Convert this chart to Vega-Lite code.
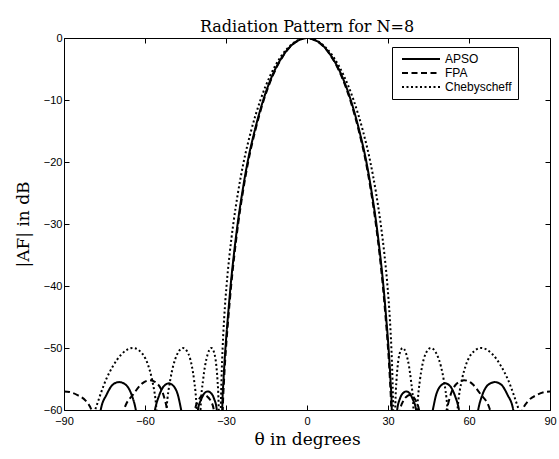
{
"$schema": "https://vega.github.io/schema/vega-lite/v6.json",
"width": 486, "height": 372,
"autosize": {"type": "none"},
"padding": {"left": 64, "top": 38, "right": 9, "bottom": 49},
"background": "white",
"title": {"text": "Radiation Pattern for N=8", "font": "DejaVu Serif", "fontSize": 16, "fontWeight": "normal", "color": "black", "offset": 0, "dy": 3},
"config": {"view": {"stroke": "black", "strokeWidth": 1}},
"data": {"values": [
{"s":"APSO","t":0,"d":0},{"s":"APSO","t":3,"d":-0.35},{"s":"APSO","t":5.3,"d":-1},{"s":"APSO","t":9.1,"d":-3},{"s":"APSO","t":12.8,"d":-6},{"s":"APSO","t":16.2,"d":-10},{"s":"APSO","t":19.4,"d":-15},{"s":"APSO","t":22.0,"d":-20},{"s":"APSO","t":24.0,"d":-25},{"s":"APSO","t":25.7,"d":-30},{"s":"APSO","t":27.1,"d":-35},{"s":"APSO","t":28.3,"d":-40},{"s":"APSO","t":29.3,"d":-45},{"s":"APSO","t":30.2,"d":-50},{"s":"APSO","t":30.9,"d":-55},{"s":"APSO","t":31.4,"d":-60},{"s":"APSO","t":31.9,"d":-75},{"s":"APSO","t":33.4,"d":-60},{"s":"APSO","t":34.4,"d":-58.2},{"s":"APSO","t":35.5,"d":-57.3},{"s":"APSO","t":36.8,"d":-57.0},{"s":"APSO","t":38.0,"d":-57.3},{"s":"APSO","t":39.2,"d":-58.3},{"s":"APSO","t":40.4,"d":-60},{"s":"APSO","t":41.2,"d":-75},{"s":"APSO","t":46.6,"d":-60},{"s":"APSO","t":47.8,"d":-57.6},{"s":"APSO","t":49.3,"d":-56.2},{"s":"APSO","t":51.2,"d":-55.7},{"s":"APSO","t":53.1,"d":-56.2},{"s":"APSO","t":54.8,"d":-57.7},{"s":"APSO","t":56.3,"d":-60},{"s":"APSO","t":59.8,"d":-75},{"s":"APSO","t":63.4,"d":-60},{"s":"APSO","t":65.0,"d":-57.5},{"s":"APSO","t":67.2,"d":-55.9},{"s":"APSO","t":69.6,"d":-55.5},{"s":"APSO","t":71.9,"d":-55.9},{"s":"APSO","t":74.2,"d":-57.5},{"s":"APSO","t":76.4,"d":-60},{"s":"APSO","t":80,"d":-75},{"s":"APSO","t":90,"d":-75},
{"s":"APSO","t":-3,"d":-0.35},{"s":"APSO","t":-5.3,"d":-1},{"s":"APSO","t":-9.1,"d":-3},{"s":"APSO","t":-12.8,"d":-6},{"s":"APSO","t":-16.2,"d":-10},{"s":"APSO","t":-19.4,"d":-15},{"s":"APSO","t":-22.0,"d":-20},{"s":"APSO","t":-24.0,"d":-25},{"s":"APSO","t":-25.7,"d":-30},{"s":"APSO","t":-27.1,"d":-35},{"s":"APSO","t":-28.3,"d":-40},{"s":"APSO","t":-29.3,"d":-45},{"s":"APSO","t":-30.2,"d":-50},{"s":"APSO","t":-30.9,"d":-55},{"s":"APSO","t":-31.4,"d":-60},{"s":"APSO","t":-31.9,"d":-75},{"s":"APSO","t":-33.4,"d":-60},{"s":"APSO","t":-34.4,"d":-58.2},{"s":"APSO","t":-35.5,"d":-57.3},{"s":"APSO","t":-36.8,"d":-57.0},{"s":"APSO","t":-38.0,"d":-57.3},{"s":"APSO","t":-39.2,"d":-58.3},{"s":"APSO","t":-40.4,"d":-60},{"s":"APSO","t":-41.2,"d":-75},{"s":"APSO","t":-46.6,"d":-60},{"s":"APSO","t":-47.8,"d":-57.6},{"s":"APSO","t":-49.3,"d":-56.2},{"s":"APSO","t":-51.2,"d":-55.7},{"s":"APSO","t":-53.1,"d":-56.2},{"s":"APSO","t":-54.8,"d":-57.7},{"s":"APSO","t":-56.3,"d":-60},{"s":"APSO","t":-59.8,"d":-75},{"s":"APSO","t":-63.4,"d":-60},{"s":"APSO","t":-65.0,"d":-57.5},{"s":"APSO","t":-67.2,"d":-55.9},{"s":"APSO","t":-69.6,"d":-55.5},{"s":"APSO","t":-71.9,"d":-55.9},{"s":"APSO","t":-74.2,"d":-57.5},{"s":"APSO","t":-76.4,"d":-60},{"s":"APSO","t":-80,"d":-75},{"s":"APSO","t":-90,"d":-75},
{"s":"FPA","t":0,"d":0},{"s":"FPA","t":3,"d":-0.37},{"s":"FPA","t":5.2,"d":-1},{"s":"FPA","t":9.0,"d":-3},{"s":"FPA","t":12.6,"d":-6},{"s":"FPA","t":16.0,"d":-10},{"s":"FPA","t":19.2,"d":-15},{"s":"FPA","t":21.8,"d":-20},{"s":"FPA","t":23.8,"d":-25},{"s":"FPA","t":25.5,"d":-30},{"s":"FPA","t":26.9,"d":-35},{"s":"FPA","t":28.1,"d":-40},{"s":"FPA","t":29.1,"d":-45},{"s":"FPA","t":30.0,"d":-50},{"s":"FPA","t":30.7,"d":-55},{"s":"FPA","t":31.2,"d":-60},{"s":"FPA","t":31.8,"d":-75},{"s":"FPA","t":34.5,"d":-60},{"s":"FPA","t":35.7,"d":-58.5},{"s":"FPA","t":37.0,"d":-57.8},{"s":"FPA","t":38.2,"d":-57.6},{"s":"FPA","t":39.4,"d":-57.9},{"s":"FPA","t":40.5,"d":-58.7},{"s":"FPA","t":41.5,"d":-60},{"s":"FPA","t":44,"d":-75},{"s":"FPA","t":51.7,"d":-60},{"s":"FPA","t":53.3,"d":-57.4},{"s":"FPA","t":55.6,"d":-55.7},{"s":"FPA","t":58.2,"d":-55.2},{"s":"FPA","t":61.0,"d":-55.7},{"s":"FPA","t":64.2,"d":-57.4},{"s":"FPA","t":67.8,"d":-60},{"s":"FPA","t":73.5,"d":-75},{"s":"FPA","t":79.8,"d":-60},{"s":"FPA","t":82.0,"d":-58.5},{"s":"FPA","t":85.0,"d":-57.6},{"s":"FPA","t":88.0,"d":-57.1},{"s":"FPA","t":90,"d":-57.0},
{"s":"FPA","t":-3,"d":-0.37},{"s":"FPA","t":-5.2,"d":-1},{"s":"FPA","t":-9.0,"d":-3},{"s":"FPA","t":-12.6,"d":-6},{"s":"FPA","t":-16.0,"d":-10},{"s":"FPA","t":-19.2,"d":-15},{"s":"FPA","t":-21.8,"d":-20},{"s":"FPA","t":-23.8,"d":-25},{"s":"FPA","t":-25.5,"d":-30},{"s":"FPA","t":-26.9,"d":-35},{"s":"FPA","t":-28.1,"d":-40},{"s":"FPA","t":-29.1,"d":-45},{"s":"FPA","t":-30.0,"d":-50},{"s":"FPA","t":-30.7,"d":-55},{"s":"FPA","t":-31.2,"d":-60},{"s":"FPA","t":-31.8,"d":-75},{"s":"FPA","t":-34.5,"d":-60},{"s":"FPA","t":-35.7,"d":-58.5},{"s":"FPA","t":-37.0,"d":-57.8},{"s":"FPA","t":-38.2,"d":-57.6},{"s":"FPA","t":-39.4,"d":-57.9},{"s":"FPA","t":-40.5,"d":-58.7},{"s":"FPA","t":-41.5,"d":-60},{"s":"FPA","t":-44,"d":-75},{"s":"FPA","t":-51.7,"d":-60},{"s":"FPA","t":-53.3,"d":-57.4},{"s":"FPA","t":-55.6,"d":-55.7},{"s":"FPA","t":-58.2,"d":-55.2},{"s":"FPA","t":-61.0,"d":-55.7},{"s":"FPA","t":-64.2,"d":-57.4},{"s":"FPA","t":-67.8,"d":-60},{"s":"FPA","t":-73.5,"d":-75},{"s":"FPA","t":-79.8,"d":-60},{"s":"FPA","t":-82.0,"d":-58.5},{"s":"FPA","t":-85.0,"d":-57.6},{"s":"FPA","t":-88.0,"d":-57.1},{"s":"FPA","t":-90,"d":-57.0},
{"s":"Chebyscheff","t":0,"d":0},{"s":"Chebyscheff","t":3,"d":-0.28},{"s":"Chebyscheff","t":5.62,"d":-1},{"s":"Chebyscheff","t":9.67,"d":-3},{"s":"Chebyscheff","t":13.56,"d":-6},{"s":"Chebyscheff","t":17.24,"d":-10},{"s":"Chebyscheff","t":20.72,"d":-15},{"s":"Chebyscheff","t":23.46,"d":-20},{"s":"Chebyscheff","t":25.58,"d":-25},{"s":"Chebyscheff","t":27.30,"d":-30},{"s":"Chebyscheff","t":28.70,"d":-35},{"s":"Chebyscheff","t":29.81,"d":-40},{"s":"Chebyscheff","t":30.65,"d":-45},{"s":"Chebyscheff","t":31.25,"d":-50},{"s":"Chebyscheff","t":31.66,"d":-55},{"s":"Chebyscheff","t":31.92,"d":-60},{"s":"Chebyscheff","t":32.2,"d":-75},{"s":"Chebyscheff","t":32.68,"d":-60},{"s":"Chebyscheff","t":33.17,"d":-55},{"s":"Chebyscheff","t":33.55,"d":-53},{"s":"Chebyscheff","t":34.24,"d":-51},{"s":"Chebyscheff","t":35.42,"d":-50},{"s":"Chebyscheff","t":36.78,"d":-51},{"s":"Chebyscheff","t":37.80,"d":-53},{"s":"Chebyscheff","t":38.44,"d":-55},{"s":"Chebyscheff","t":39.44,"d":-60},{"s":"Chebyscheff","t":39.7,"d":-75},{"s":"Chebyscheff","t":40.84,"d":-60},{"s":"Chebyscheff","t":41.88,"d":-55},{"s":"Chebyscheff","t":42.61,"d":-53},{"s":"Chebyscheff","t":43.88,"d":-51},{"s":"Chebyscheff","t":45.90,"d":-50},{"s":"Chebyscheff","t":48.06,"d":-51},{"s":"Chebyscheff","t":49.62,"d":-53},{"s":"Chebyscheff","t":50.59,"d":-55},{"s":"Chebyscheff","t":52.06,"d":-60},{"s":"Chebyscheff","t":53.8,"d":-75},{"s":"Chebyscheff","t":55.73,"d":-60},{"s":"Chebyscheff","t":57.44,"d":-55},{"s":"Chebyscheff","t":58.67,"d":-53},{"s":"Chebyscheff","t":60.83,"d":-51},{"s":"Chebyscheff","t":64.48,"d":-50},{"s":"Chebyscheff","t":68.68,"d":-51},{"s":"Chebyscheff","t":71.97,"d":-53},{"s":"Chebyscheff","t":74.33,"d":-55},{"s":"Chebyscheff","t":78.49,"d":-60},{"s":"Chebyscheff","t":90,"d":-75},
{"s":"Chebyscheff","t":-3,"d":-0.28},{"s":"Chebyscheff","t":-5.62,"d":-1},{"s":"Chebyscheff","t":-9.67,"d":-3},{"s":"Chebyscheff","t":-13.56,"d":-6},{"s":"Chebyscheff","t":-17.24,"d":-10},{"s":"Chebyscheff","t":-20.72,"d":-15},{"s":"Chebyscheff","t":-23.46,"d":-20},{"s":"Chebyscheff","t":-25.58,"d":-25},{"s":"Chebyscheff","t":-27.30,"d":-30},{"s":"Chebyscheff","t":-28.70,"d":-35},{"s":"Chebyscheff","t":-29.81,"d":-40},{"s":"Chebyscheff","t":-30.65,"d":-45},{"s":"Chebyscheff","t":-31.25,"d":-50},{"s":"Chebyscheff","t":-31.66,"d":-55},{"s":"Chebyscheff","t":-31.92,"d":-60},{"s":"Chebyscheff","t":-32.2,"d":-75},{"s":"Chebyscheff","t":-32.68,"d":-60},{"s":"Chebyscheff","t":-33.17,"d":-55},{"s":"Chebyscheff","t":-33.55,"d":-53},{"s":"Chebyscheff","t":-34.24,"d":-51},{"s":"Chebyscheff","t":-35.42,"d":-50},{"s":"Chebyscheff","t":-36.78,"d":-51},{"s":"Chebyscheff","t":-37.80,"d":-53},{"s":"Chebyscheff","t":-38.44,"d":-55},{"s":"Chebyscheff","t":-39.44,"d":-60},{"s":"Chebyscheff","t":-39.7,"d":-75},{"s":"Chebyscheff","t":-40.84,"d":-60},{"s":"Chebyscheff","t":-41.88,"d":-55},{"s":"Chebyscheff","t":-42.61,"d":-53},{"s":"Chebyscheff","t":-43.88,"d":-51},{"s":"Chebyscheff","t":-45.90,"d":-50},{"s":"Chebyscheff","t":-48.06,"d":-51},{"s":"Chebyscheff","t":-49.62,"d":-53},{"s":"Chebyscheff","t":-50.59,"d":-55},{"s":"Chebyscheff","t":-52.06,"d":-60},{"s":"Chebyscheff","t":-53.8,"d":-75},{"s":"Chebyscheff","t":-55.73,"d":-60},{"s":"Chebyscheff","t":-57.44,"d":-55},{"s":"Chebyscheff","t":-58.67,"d":-53},{"s":"Chebyscheff","t":-60.83,"d":-51},{"s":"Chebyscheff","t":-64.48,"d":-50},{"s":"Chebyscheff","t":-68.68,"d":-51},{"s":"Chebyscheff","t":-71.97,"d":-53},{"s":"Chebyscheff","t":-74.33,"d":-55},{"s":"Chebyscheff","t":-78.49,"d":-60},{"s":"Chebyscheff","t":-90,"d":-75}
]},
"layer": [
{
"mark": {"type": "line", "color": "black", "strokeWidth": 2, "clip": true, "interpolate": "monotone"},
"encoding": {
"x": {"field": "t", "type": "quantitative", "scale": {"domain": [-90, 90], "nice": false},
 "axis": {"orient": "bottom", "values": [-90, -60, -30, 0, 30, 60, 90], "tickSize": -5, "tickColor": "black", "labelPadding": 10, "domain": false, "grid": false, "labelFlush": false, "labelOverlap": false, "labelFont": "Liberation Sans", "labelFontSize": 11, "labelColor": "black", "title": "θ in degrees", "titleFont": "DejaVu Serif", "titleFontSize": 17, "titleFontWeight": "normal", "titleColor": "black", "titlePadding": 5}},
"y": {"field": "d", "type": "quantitative", "scale": {"domain": [-60, 0], "nice": false},
 "axis": {"orient": "left", "values": [-60, -50, -40, -30, -20, -10, 0], "tickSize": -5, "tickColor": "black", "labelPadding": 7, "domain": false, "grid": false, "labelFlush": false, "labelOverlap": false, "labelFont": "Liberation Sans", "labelFontSize": 11, "labelColor": "black", "title": "|AF| in dB", "titleFont": "DejaVu Serif", "titleFontSize": 17, "titleFontWeight": "normal", "titleColor": "black", "titlePadding": 11}},
"strokeDash": {"field": "s", "type": "nominal", "scale": {"domain": ["APSO", "FPA", "Chebyscheff"], "range": [[1, 0], [6, 3.5], [2, 2.5]]},
 "legend": {"title": null, "orient": "none", "legendX": 328, "legendY": 9, "symbolType": "M-3.8,0H3.8", "symbolSize": 100, "symbolStrokeWidth": 2, "symbolStrokeColor": "black", "symbolOffset": 17, "labelOffset": 18, "labelFont": "Liberation Sans", "labelFontSize": 12, "labelColor": "black", "strokeColor": "black", "fillColor": "white", "padding": 6, "rowPadding": 2}}
}
},
{
"mark": {"type": "point", "opacity": 0, "clip": true},
"encoding": {
"x": {"field": "t", "type": "quantitative", "axis": {"orient": "top", "values": [-90, -60, -30, 0, 30, 60, 90], "tickSize": -5, "tickColor": "black", "labels": false, "domain": false, "grid": false, "title": null}},
"y": {"field": "d", "type": "quantitative", "axis": {"orient": "right", "values": [-60, -50, -40, -30, -20, -10, 0], "tickSize": -5, "tickColor": "black", "labels": false, "domain": false, "grid": false, "title": null}}
}
}
],
"resolve": {"axis": {"x": "independent", "y": "independent"}}
}
